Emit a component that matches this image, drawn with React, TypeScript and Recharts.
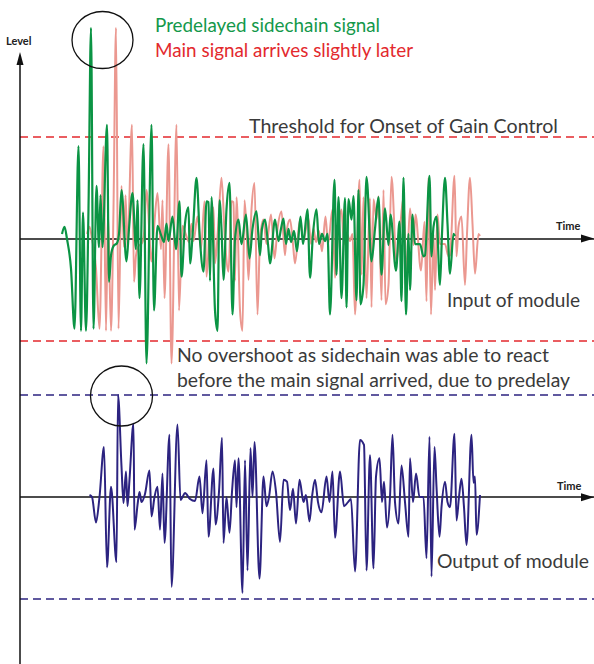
import { LineChart, Line, XAxis, YAxis, ReferenceLine } from 'recharts';

// time in samples from the origin of the time axis, level relative to the threshold (1 = threshold)
const PREDELAY = 25;
const THRESHOLD = 1;

const sidechainTime = [
  42, 44.5, 47, 51, 54.5, 58.5, 61, 63, 66, 68.5, 71, 73.5, 76.5, 79, 80.5, 82.5, 87, 89, 91, 93.5,
  97, 99, 101.5, 106.5, 109, 112.5, 116, 117.5, 119.5, 123.5, 126.5, 131.5, 134, 137.5, 141, 144,
  146.5, 148.5, 152.5, 156, 159.5, 161.5, 165, 168.5, 170, 173, 176.5, 180, 183.5, 186.5, 188.5, 190,
  191.5, 195, 197.5, 199.5, 201.5, 203.5, 206.5, 209.5, 212.5, 215, 218.5, 221.5, 226, 229.5, 232.5,
  236.5, 240, 242, 245, 248, 250, 255, 258.5, 261, 263.5, 266, 268.5, 271, 274, 277, 280.5, 283,
  287.5, 290, 293, 296.5, 299, 302, 305, 307.5, 310, 314.5, 316.5, 318.5, 321.5, 325, 326.5, 328.5,
  331.5, 333.5, 336.5, 338.5, 340.5, 343.5, 346.5, 351.5, 355, 358.5, 361.5, 365, 368.5, 370.5, 376,
  379.5, 381.5, 383.5, 386, 388.5, 390, 392.5, 395, 400, 403.5, 405, 409.5, 411.5, 413.5, 416.5, 420,
  422, 425, 427.5, 430, 433.5, 435,
];
const inputLevel = [
  0.05, 0.12, 0.0, -0.29, -0.88, 0.91, -0.9, 0.26, -0.9, 0.3, 2.07, -0.88, 0.52, -0.08, 0.43, -0.08,
  1.12, -0.42, -0.16, -0.07, -0.04, 0.05, 0.48, -0.22, 0.1, 0.45, -0.1, 0.38, -0.58, 0.93, -1.22,
  1.12, -0.7, 0.13, 0.04, -0.03, 0.15, -0.02, 0.22, -0.1, 0.37, -0.37, 0.15, 0.31, -0.24, 0.1, 0.6,
  -0.02, -0.32, 0.37, 0.36, -0.41, 0.41, -0.7, -0.9, 0.38, 0.1, -0.4, 0.29, 0.55, -0.74, 0.0, 0.19,
  -0.05, 0.24, -0.19, 0.1, 0.27, -0.16, 0.1, 0.19, -0.05, -0.24, 0.19, -0.02, 0.1, 0.2, -0.05, 0.1,
  -0.03, 0.08, -0.12, 0.22, -0.05, 0.29, -0.38, 0.05, 0.29, -0.05, 0.05, -0.02, 0.05, -0.74, 0.58,
  -0.35, 0.41, -0.58, 0.4, -0.67, 0.39, 0.19, 0.42, -0.6, 0.48, -0.64, -0.45, 0.61, -0.22, 0.1, 0.41,
  -0.35, 0.3, -0.06, 0.24, -0.31, 0.17, -0.61, 0.6, -0.74, 0.05, -0.5, 0.24, -0.05, -0.05, -0.17,
  -0.16, 0.62, -0.17, 0.12, 0.22, -0.45, 0.05, 0.6, 0.15, -0.34, 0.05, 0.03,
];

const outputTime = [
  69.5, 72, 76, 79.5, 84, 87, 91, 96.5, 98, 101.5, 103.5, 106, 107.5, 109.5, 113.5, 114.5, 117.5,
  119.5, 121.5, 125, 129.5, 131.5, 134.5, 137.5, 140, 142.5, 144.5, 149.5, 151.5, 157.5, 160.5, 162.5,
  165, 170, 175, 179.5, 182.5, 186.5, 188.5, 193.5, 195.5, 199, 202, 203.5, 206.5, 209.5, 212, 215,
  216.5, 218.5, 222.5, 225, 227.5, 230.5, 232.5, 234.5, 239.5, 243.5, 246.5, 249, 252.5, 256, 260,
  263.5, 267, 270, 273, 276, 279.5, 283.5, 286, 289.5, 292, 295, 298, 301.5, 306.5, 309.5, 312.5, 315,
  320, 324, 328, 331, 335, 340, 344, 346.5, 350, 353.5, 356, 359.5, 362, 364, 367, 370, 372.5, 375,
  378.5, 381.5, 385, 388.5, 390, 393, 396, 399.5, 403.5, 406.5, 409.5, 411.5, 414.5, 416.5, 419.5,
  421.5, 425, 427.5, 430, 434.5, 436.5, 439, 441.5, 444, 446.5, 451.5, 453.5, 455, 456.5, 460,
];
const outputLevel = [
  0.02, 0.0, -0.25, 0.0, 0.49, -0.69, 0.1, -0.64, 1.0, 0.3, -0.06, 0.25, -0.09, 0.17, 0.72, -0.32,
  -0.08, 0.05, -0.05, 0.03, 0.26, -0.19, 0.0, 0.1, -0.32, 0.23, -0.45, 0.61, -0.88, 0.71, -0.03, 0.0,
  0.04, -0.02, -0.04, 0.2, -0.16, 0.36, -0.39, 0.28, -0.27, 0.05, 0.58, -0.45, 0.0, -0.35, 0.05, 0.36,
  -0.1, 0.38, -0.94, 0.36, -0.72, 0.48, 0.0, 0.54, -0.8, 0.2, -0.09, 0.0, 0.25, 0.05, -0.44, 0.17,
  0.15, -0.13, 0.08, -0.26, 0.17, -0.05, 0.02, -0.24, 0.0, 0.17, -0.05, -0.15, 0.2, -0.05, 0.25, -0.4,
  0.25, -0.09, -0.05, -0.02, -0.73, 0.56, 0.51, -0.72, 0.41, -0.7, 0.2, 0.38, -0.05, 0.15, -0.3, 0.0,
  0.61, -0.05, -0.26, 0.31, -0.05, -0.39, 0.38, -0.05, 0.23, 0.0, 0.0, -0.6, 0.59, -0.78, 0.49, 0.1,
  -0.39, -0.1, 0.15, -0.05, -0.1, 0.62, -0.23, 0.0, 0.18, -0.1, -0.47, 0.61, 0.14, 0.2, -0.37, 0.02,
];

const sidechainData = sidechainTime.map((t, i) => ({ t, v: inputLevel[i] }));
const mainData = sidechainTime.map((t, i) => ({ t: t + PREDELAY, v: inputLevel[i] }));
const outputData = outputTime.map((t, i) => ({ t, v: outputLevel[i] }));

const TEXT_FONT = 'Lato, "Open Sans", sans-serif';
const TEXT_COLOR = '#3a3a3a';
const RED = '#e3292e';
const NAVY = '#2c2380';

function Axes() {
  return (
    <svg width={594} height={664} style={{ position: 'absolute', left: 0, top: 0 }}>
      {/* level axis */}
      <line x1={20} y1={58} x2={20} y2={664} stroke="#111" strokeWidth={1.5} />
      <polygon points="20,52 16.5,65 23.5,65" fill="#111" />
      <polygon points="594,238.5 581,234.5 581,242.5" fill="#111" />
      <polygon points="594,497.3 581,493.3 581,501.3" fill="#111" />

      <ellipse cx={102.5} cy={40} rx={30.5} ry={28.5} fill="none" stroke="#111" strokeWidth={1.3} />
      <ellipse cx={121.5} cy={396} rx={31} ry={30} fill="none" stroke="#111" strokeWidth={1.3} />

      <text x={6} y={45} fontFamily={TEXT_FONT} fontWeight={700} fontSize={11} fill="#222">Level</text>
      <text x={556} y={230} fontFamily={TEXT_FONT} fontWeight={700} fontSize={11} fill="#222">Time</text>
      <text x={557} y={490} fontFamily={TEXT_FONT} fontWeight={700} fontSize={11} fill="#222">Time</text>

      <g fontFamily={TEXT_FONT} fontSize={18.5}>
        <text x={155} y={32} fill="#13984a" textLength={225} lengthAdjust="spacingAndGlyphs">Predelayed sidechain signal</text>
        <text x={155} y={57} fill={RED} textLength={258} lengthAdjust="spacingAndGlyphs">Main signal arrives slightly later</text>
        <text x={249} y={133} fill={TEXT_COLOR} textLength={309} lengthAdjust="spacingAndGlyphs">Threshold for Onset of Gain Control</text>
        <text x={447} y={307} fill={TEXT_COLOR} textLength={133} lengthAdjust="spacingAndGlyphs">Input of module</text>
        <text x={177} y={362} fill={TEXT_COLOR} textLength={372} lengthAdjust="spacingAndGlyphs">No overshoot as sidechain was able to react</text>
        <text x={177} y={387} fill={TEXT_COLOR} textLength={393} lengthAdjust="spacingAndGlyphs">before the main signal arrived, due to predelay</text>
        <text x={437} y={568} fill={TEXT_COLOR} textLength={152} lengthAdjust="spacingAndGlyphs">Output of module</text>
      </g>
    </svg>
  );
}

export default function App() {
  return (
    <div style={{ position: 'absolute', left: 0, top: 0, width: 594, height: 664, overflow: 'hidden', background: '#fff' }}>
      {/* input of module */}
      <div style={{ position: 'absolute', left: 0, top: -16.5 }}>
        <LineChart width={594} height={408} margin={{ top: 0, right: 0, bottom: 0, left: 20 }}>
          <XAxis type="number" dataKey="t" domain={[0, 574]} hide allowDataOverflow />
          <YAxis type="number" domain={[-1.5, 2.5]} hide allowDataOverflow />
          <ReferenceLine y={THRESHOLD} stroke={RED} strokeWidth={1.5} strokeDasharray="8 5" />
          <ReferenceLine y={-THRESHOLD} stroke={RED} strokeWidth={1.5} strokeDasharray="8 5" />
          <ReferenceLine y={0} stroke="#111" strokeWidth={1.5} />
          <Line data={mainData} dataKey="v" type="monotone" stroke="#eb9890" strokeWidth={2} dot={false} isAnimationActive={false} />
          <Line data={sidechainData} dataKey="v" type="monotone" stroke="#0b9444" strokeWidth={2.2} dot={false} isAnimationActive={false} />
        </LineChart>
      </div>

      {/* output of module */}
      <div style={{ position: 'absolute', left: 0, top: 344.3 }}>
        <LineChart width={594} height={306} margin={{ top: 0, right: 0, bottom: 0, left: 20 }}>
          <XAxis type="number" dataKey="t" domain={[0, 574]} hide allowDataOverflow />
          <YAxis type="number" domain={[-1.5, 1.5]} hide allowDataOverflow />
          <ReferenceLine y={THRESHOLD} stroke={NAVY} strokeWidth={1.5} strokeDasharray="8 5" />
          <ReferenceLine y={-THRESHOLD} stroke={NAVY} strokeWidth={1.5} strokeDasharray="8 5" />
          <ReferenceLine y={0} stroke="#111" strokeWidth={1.5} />
          <Line data={outputData} dataKey="v" type="monotone" stroke={NAVY} strokeWidth={2} dot={false} isAnimationActive={false} />
        </LineChart>
      </div>

      <Axes />
    </div>
  );
}
